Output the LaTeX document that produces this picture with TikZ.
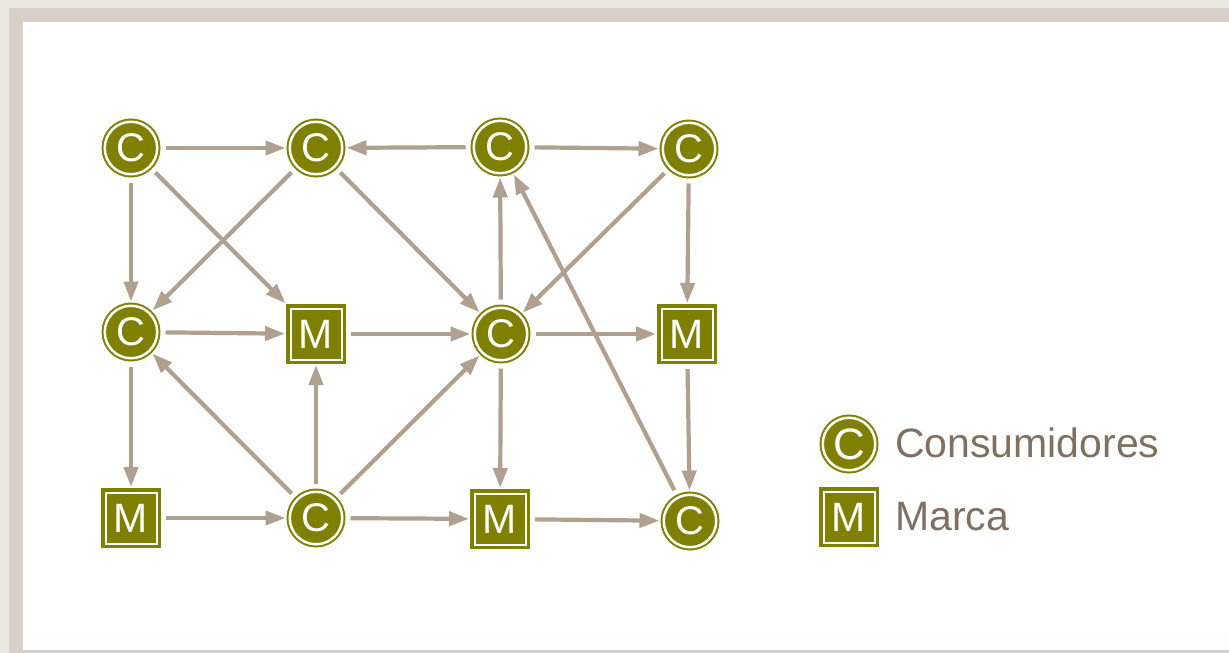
\documentclass[tikz,border=0pt]{standalone}
\usepackage{fontspec}
\setmainfont{Liberation Sans}
\usetikzlibrary{arrows.meta}
\definecolor{olive}{RGB}{128,128,0}
\definecolor{edgetan}{RGB}{176,160,144}
\definecolor{legendtxt}{RGB}{127,112,98}
\definecolor{outerbg}{RGB}{232,232,224}
\definecolor{frameband}{RGB}{216,208,200}
\tikzset{
  consumer/.style={circle, draw=olive, fill=olive, line width=2pt,
    double=white, double distance=2.5pt, minimum size=52.5pt, inner sep=0pt,
    outer sep=3.25pt, text=white, font=\fontsize{40}{40}\selectfont},
  brand/.style={rectangle, draw=olive, fill=olive, line width=3.5pt,
    double=white, double distance=2pt, minimum size=51pt, inner sep=0pt,
    outer sep=4.5pt, text=white, font=\fontsize{41}{41}\selectfont},
  flow/.style={draw=edgetan, line width=4.2pt,
    -{Triangle[length=20pt,width=14pt]}, shorten <=5pt, shorten >=1pt},
  legendlabel/.style={anchor=base west, inner sep=0pt, text=legendtxt,
    font=\fontsize{41}{41}\selectfont}
}
\begin{document}
\begin{tikzpicture}[x=1pt,y=-1pt]
  % page frame
  \fill[outerbg] (0,0) rectangle (1229,653);
  \fill[frameband] (9,8) rectangle (1229,653);
  \fill[white] (23,22) rectangle (1229,650);
  \useasboundingbox (0,0) rectangle (1229,653);

  % network nodes
  \node[consumer] (c11) at (131,148) {C};
  \node[consumer] (c12) at (316,148) {C};
  \node[consumer] (c13) at (500,147) {C};
  \node[consumer] (c14) at (689,149) {C};
  \node[consumer] (c21) at (131,332) {C};
  \node[brand]    (m22) at (316,334) {M};
  \node[consumer] (c23) at (501,334) {C};
  \node[brand]    (m24) at (687,334) {M};
  \node[brand]    (m31) at (131,518) {M};
  \node[consumer] (c32) at (316,518) {C};
  \node[brand]    (m33) at (500,519) {M};
  \node[consumer] (c34) at (690,521) {C};

  % connections
  \draw[flow] (c11) -- (c12);
  \draw[flow] (c13) -- (c12);
  \draw[flow] (c13) -- (c14);
  \draw[flow] (c11) -- (c21);
  \draw[flow] (c11) -- (m22);
  \draw[flow] (c12) -- (c21);
  \draw[flow] (c12) -- (c23);
  \draw[flow] (c14) -- (c23);
  \draw[flow] (c14) -- (m24);
  \draw[flow] (c21) -- (m22);
  \draw[flow] (m22) -- (c23);
  \draw[flow] (c23) -- (m24);
  \draw[flow] (c23) -- (c13);
  \draw[flow] (c21) -- (m31);
  \draw[flow] (c23) -- (m33);
  \draw[flow] (m24) -- (c34);
  \draw[flow] (m31) -- (c32);
  \draw[flow] (c32) -- (m33);
  \draw[flow] (m33) -- (c34);
  \draw[flow] (c32) -- (c21);
  \draw[flow] (c32) -- (m22);
  \draw[flow] (c32) -- (c23);
  \draw[flow] (c34) -- (c13);

  % legend
  \node[consumer, font=\fontsize{44}{44}\selectfont] (lc) at (849,444) {C};
  \node[brand] (lm) at (849,517) {M};
  \node[legendlabel] (lct) at (895,457) {Consumidores};
  \node[legendlabel] (lmt) at (895,530) {Marca};
\end{tikzpicture}
\end{document}
